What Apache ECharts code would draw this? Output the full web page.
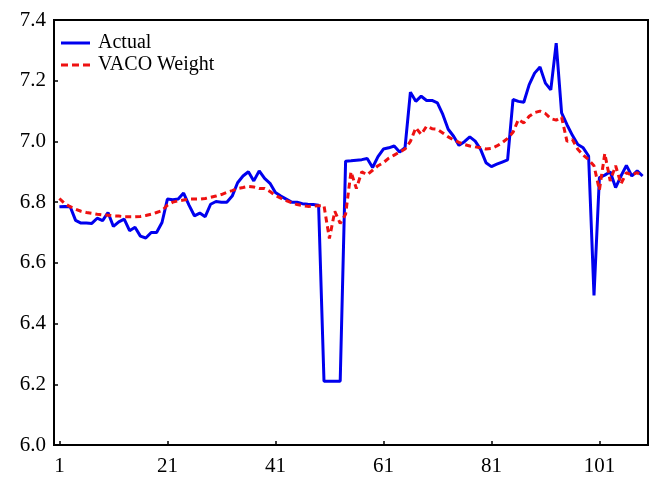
<!DOCTYPE html>
<html>
<head>
<meta charset="utf-8">
<script src="https://cdn.jsdelivr.net/npm/echarts@6/dist/echarts.min.js"></script>
<style>
html,body{margin:0;padding:0;background:#fff;}
#chart{width:650px;height:477px;}
</style>
</head>
<body>
<div id="chart"></div>
<script>
var xTickLabels = [1, 21, 41, 61, 81, 101];
var yTickLabels = [6.0, 6.2, 6.4, 6.6, 6.8, 7.0, 7.2, 7.4];
var seriesNames = ['Actual', 'VACO Weight'];

var actual = [
6.785,6.786,6.785,6.740,6.731,6.731,6.730,6.747,6.739,6.766,
6.720,6.735,6.744,6.706,6.717,6.688,6.682,6.700,6.700,6.733,
6.810,6.808,6.810,6.830,6.790,6.755,6.764,6.752,6.793,6.802,
6.800,6.800,6.820,6.864,6.886,6.900,6.870,6.903,6.878,6.862,
6.832,6.820,6.810,6.800,6.800,6.795,6.793,6.792,6.790,6.210,
6.210,6.210,6.210,6.935,6.936,6.938,6.940,6.944,6.914,6.950,
6.975,6.979,6.985,6.965,6.979,7.162,7.132,7.149,7.135,7.135,
7.127,7.089,7.040,7.017,6.987,6.999,7.015,7.001,6.974,6.930,
6.917,6.925,6.932,6.939,7.138,7.132,7.129,7.187,7.225,7.245,
7.192,7.170,7.324,7.094,7.055,7.020,6.990,6.979,6.952,6.493,
6.881,6.889,6.900,6.848,6.886,6.921,6.886,6.903,6.886
];

var vaco = [
6.812,6.795,6.785,6.777,6.770,6.766,6.763,6.760,6.758,6.757,
6.755,6.754,6.752,6.752,6.752,6.753,6.756,6.760,6.766,6.772,
6.790,6.800,6.804,6.807,6.810,6.810,6.810,6.812,6.816,6.820,
6.825,6.832,6.838,6.845,6.848,6.852,6.850,6.845,6.845,6.835,
6.822,6.813,6.805,6.798,6.792,6.789,6.786,6.787,6.788,6.788,
6.680,6.770,6.730,6.760,6.900,6.845,6.900,6.890,6.905,6.920,
6.930,6.945,6.955,6.965,6.975,7.000,7.045,7.023,7.050,7.042,
7.040,7.028,7.015,7.005,6.997,6.990,6.985,6.982,6.979,6.975,
6.977,6.985,6.996,7.010,7.030,7.072,7.061,7.083,7.095,7.100,
7.092,7.075,7.070,7.080,7.000,7.006,6.974,6.955,6.940,6.920,
6.840,6.960,6.870,6.920,6.860,6.897,6.889,6.897,6.886
];

function pairs(arr){ return arr.map(function(v,i){ return [i+1, v]; }); }

var blue = '#0000ee';
var red = '#ee1111';
var font = 'Liberation Serif';
var chart = echarts.init(document.getElementById('chart'), null, {renderer:'canvas'});
chart.setOption({
  animation: false,
  backgroundColor: '#fff',
  grid: {left: 54, right: 2, top: 20, bottom: 29, show: true, borderColor: '#000', borderWidth: 2, backgroundColor: 'transparent'},
  legend: {
    orient: 'vertical', left: 56, top: 28,
    itemWidth: 29, itemHeight: 3, itemGap: 2,
    data: [
      {name: seriesNames[0], icon: 'rect', itemStyle: {color: blue}},
      {name: seriesNames[1], icon: 'path://M0 0H7V3H0Z M11 0H18V3H11Z M22 0H29V3H22Z', itemStyle: {color: red}}
    ],
    textStyle: {fontFamily: font, fontSize: 20, color: '#000', padding: [0,0,0,3]}
  },
  xAxis: {
    type: 'value', min: 0, max: 110,
    axisLine: {show: true, onZero: false, lineStyle: {color: '#000', width: 2}},
    axisTick: {show: true, inside: true, length: 4, customValues: xTickLabels, lineStyle: {color: '#000', width: 1.5}},
    axisLabel: {customValues: xTickLabels, fontFamily: font, fontSize: 21, color: '#000', margin: 11},
    splitLine: {show: false}
  },
  yAxis: {
    type: 'value', min: 6.0, max: 7.4, interval: 0.2,
    axisLine: {show: true, onZero: false, lineStyle: {color: '#000', width: 2}},
    axisTick: {show: true, inside: true, length: 4, lineStyle: {color: '#000', width: 1.5}},
    axisLabel: {fontFamily: font, fontSize: 21, color: '#000', margin: 8,
      formatter: function(v){ return v.toFixed(1); }},
    splitLine: {show: false}
  },
  series: [
    {name: seriesNames[0], type: 'line', data: pairs(actual), symbol: 'none', z: 2,
     lineStyle: {color: blue, width: 3}, itemStyle: {color: blue}},
    {name: seriesNames[1], type: 'line', data: pairs(vaco), symbol: 'none', z: 3,
     lineStyle: {color: red, width: 3, type: [6, 4]}, itemStyle: {color: red}}
  ]
});
</script>
</body>
</html>
